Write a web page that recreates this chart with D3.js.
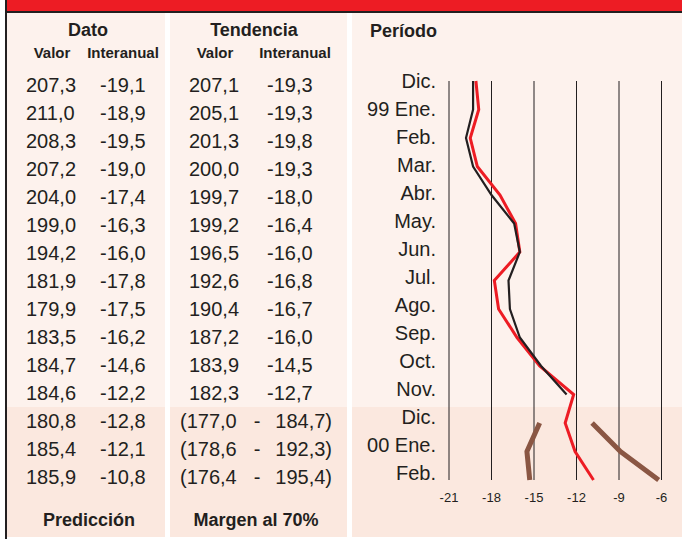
<!DOCTYPE html>
<html>
<head>
<meta charset="utf-8">
<script src="https://cdn.jsdelivr.net/npm/d3@7"></script>
<style>
  html, body { margin: 0; padding: 0; background: #ffffff; }
  svg { display: block; font-family: "Liberation Sans", Arial, Helvetica, sans-serif; }
</style>
</head>
<body>
<svg id="chart" width="682" height="539"></svg>
<script>
// Period labels (one per row)
const periods = ["Dic.", "99 Ene.", "Feb.", "Mar.", "Abr.", "May.", "Jun.", "Jul.",
                 "Ago.", "Sep.", "Oct.", "Nov.", "Dic.", "00 Ene.", "Feb."];
// Observed data: level and year-on-year rate (last three rows are predictions)
const datoValor = [207.3, 211.0, 208.3, 207.2, 204.0, 199.0, 194.2, 181.9,
                   179.9, 183.5, 184.7, 184.6, 180.8, 185.4, 185.9];
const datoInter = [-19.1, -18.9, -19.5, -19.0, -17.4, -16.3, -16.0, -17.8,
                   -17.5, -16.2, -14.6, -12.2, -12.8, -12.1, -10.8];
// Trend: level and year-on-year rate
const tendValor = [207.1, 205.1, 201.3, 200.0, 199.7, 199.2, 196.5, 192.6,
                   190.4, 187.2, 183.9, 182.3];
const tendInter = [-19.3, -19.3, -19.8, -19.3, -18.0, -16.4, -16.0, -16.8,
                   -16.7, -16.0, -14.5, -12.7];
// 70% margin for the prediction rows (levels)
const margenLow  = [177.0, 178.6, 176.4];
const margenHigh = [184.7, 192.3, 195.4];
// 70% margin for the prediction rows (year-on-year rate)
const bandLowInter  = [-14.6, -15.5, -15.3];
const bandHighInter = [-10.9, -8.9, -6.2];
// Axis ticks
const xTicks = [-21, -18, -15, -12, -9, -6];

const nObs = 12;              // rows before the forecast block
const svg = d3.select("#chart");

const locale = d3.formatLocale({decimal: ",", thousands: ".", grouping: [3], currency: ["", ""], minus: "-"});
const f1 = locale.format(".1f");
const f0 = locale.format("d");

const INK = "#231f20";
const RED = "#ed1c24";
const BROWN = "#8a5643";
const PINK = "#fdf2ed";
const PINK_DARK = "#fbe8df";

// ---- panel background ----
const cols = [[6, 165], [170, 347], [352, 682]];
cols.forEach(([a, b]) => {
  svg.append("rect").attr("x", a).attr("y", 13).attr("width", b - a).attr("height", 524).attr("fill", PINK);
  svg.append("rect").attr("x", a).attr("y", 407).attr("width", b - a).attr("height", 130).attr("fill", PINK_DARK);
});

// header band and frame
svg.append("rect").attr("x", 6).attr("y", 0).attr("width", 676).attr("height", 11).attr("fill", RED);
svg.append("rect").attr("x", 5).attr("y", 11).attr("width", 677).attr("height", 2).attr("fill", INK);
svg.append("rect").attr("x", 5).attr("y", 0).attr("width", 2).attr("height", 539).attr("fill", INK);

// ---- column headings ----
const head = svg.append("g").attr("fill", INK).attr("font-weight", "bold");
head.append("text").attr("x", 88).attr("y", 36).attr("text-anchor", "middle").attr("font-size", 18).text("Dato");
head.append("text").attr("x", 254).attr("y", 36).attr("text-anchor", "middle").attr("font-size", 18).text("Tendencia");
head.append("text").attr("x", 370).attr("y", 37).attr("font-size", 18).text("Período");
[[52, "Valor"], [123, "Interanual"], [215, "Valor"], [295, "Interanual"]].forEach(([x, t]) => {
  head.append("text").attr("x", x).attr("y", 58).attr("text-anchor", "middle").attr("font-size", 15).text(t);
});
head.append("text").attr("x", 89).attr("y", 526).attr("text-anchor", "middle").attr("font-size", 18).text("Predicción");
head.append("text").attr("x", 256).attr("y", 526).attr("text-anchor", "middle").attr("font-size", 18).text("Margen al 70%");

// ---- table ----
const rowY = d3.scalePoint().domain(d3.range(periods.length)).range([85, 477]);
const table = svg.append("g").attr("fill", INK).attr("font-size", 20).attr("dominant-baseline", "central");

table.selectAll(".dv").data(datoValor).join("text")
  .attr("x", 26).attr("y", (d, i) => rowY(i)).text(d => f1(d));
table.selectAll(".di").data(datoInter).join("text")
  .attr("x", 100).attr("y", (d, i) => rowY(i)).text(d => f1(d));
table.selectAll(".tv").data(tendValor).join("text")
  .attr("x", 189).attr("y", (d, i) => rowY(i)).text(d => f1(d));
table.selectAll(".ti").data(tendInter).join("text")
  .attr("x", 267).attr("y", (d, i) => rowY(i)).text(d => f1(d));

margenLow.forEach((lo, j) => {
  const y = rowY(nObs + j);
  table.append("text").attr("x", 180).attr("y", y).text("(" + f1(lo));
  table.append("text").attr("x", 257).attr("y", y).attr("text-anchor", "middle").text("-");
  table.append("text").attr("x", 332).attr("y", y).attr("text-anchor", "end").text(f1(margenHigh[j]) + ")");
});

// ---- chart ----
const x = d3.scaleLinear().domain([-21, -6]).range([449, 661.5]);
const y = d3.scalePoint().domain(d3.range(periods.length)).range([81, 480]);
const labelY = d3.scalePoint().domain(d3.range(periods.length)).range([81, 473]);

const chart = svg.append("g");

chart.selectAll(".grid").data(xTicks).join("line")
  .attr("x1", d => x(d)).attr("x2", d => x(d))
  .attr("y1", y(0)).attr("y2", y(periods.length - 1))
  .attr("stroke", INK).attr("stroke-width", 1);

chart.selectAll(".tick").data(xTicks).join("text")
  .attr("x", d => x(d)).attr("y", 497)
  .attr("text-anchor", "middle").attr("dominant-baseline", "central")
  .attr("font-size", 13).attr("fill", INK)
  .text(d => f0(d));

chart.selectAll(".plabel").data(periods).join("text")
  .attr("x", 436).attr("y", (d, i) => labelY(i))
  .attr("text-anchor", "end").attr("dominant-baseline", "central")
  .attr("font-size", 20).attr("fill", INK)
  .text(d => d);

const line = d3.line().x(d => x(d.v)).y(d => y(d.i));
const pts = (arr, off) => arr.map((v, i) => ({v, i: i + off}));

// 70% margin bounds
[bandLowInter, bandHighInter].forEach(b => {
  chart.append("path").attr("d", line(pts(b, nObs)))
    .attr("fill", "none").attr("stroke", BROWN).attr("stroke-width", 5).attr("stroke-linejoin", "round");
});

// observed year-on-year rate
chart.append("path").attr("d", line(pts(datoInter, 0)))
  .attr("fill", "none").attr("stroke", RED).attr("stroke-width", 3).attr("stroke-linejoin", "miter");

// trend year-on-year rate
chart.append("path").attr("d", line(pts(tendInter, 0)))
  .attr("fill", "none").attr("stroke", INK).attr("stroke-width", 2.2).attr("stroke-linejoin", "miter");
</script>
</body>
</html>
